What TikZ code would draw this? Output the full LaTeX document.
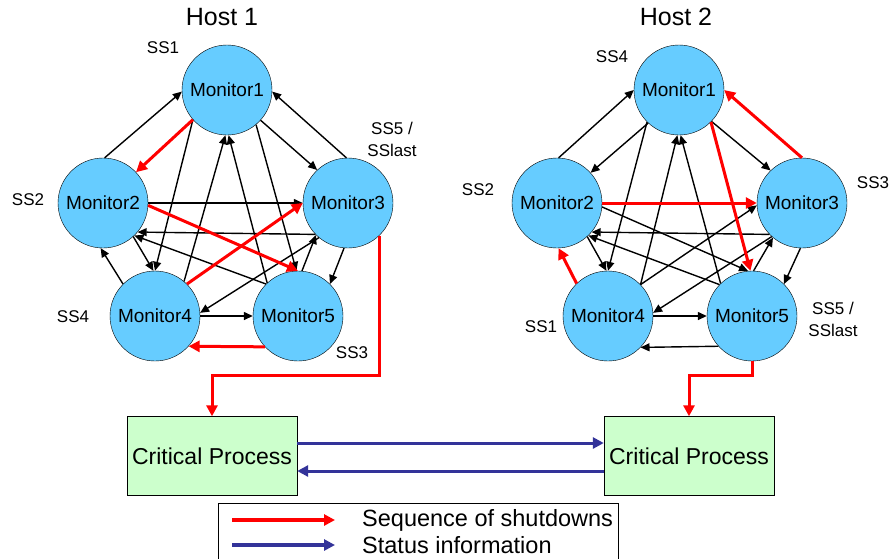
\documentclass[tikz,border=0pt]{standalone}
\usepackage{fontspec}
\setmainfont{Liberation Sans}
\usetikzlibrary{arrows.meta,positioning}
\definecolor{monblue}{RGB}{102,204,255}
\definecolor{cpgreen}{RGB}{204,255,204}
\definecolor{statblue}{RGB}{51,51,153}

\begin{document}
\begin{tikzpicture}[x=1pt, y=-1pt,
    monitor/.style = {circle, minimum size=90pt, inner sep=0pt, draw=black, fill=monblue, font=\fontsize{19}{21}\selectfont},
    critical/.style = {rectangle, minimum width=170pt, minimum height=79pt, draw=black, fill=cpgreen, font=\fontsize{23}{25}\selectfont},
    legendbox/.style = {rectangle, minimum width=400pt, minimum height=64pt, draw=black, line width=1pt},
    sslabel/.style = {align=center, font=\fontsize{17}{22}\selectfont},
    hostlabel/.style = {font=\fontsize{25}{28}\selectfont},
    legendtext/.style = {anchor=west, inner sep=0pt, font=\fontsize{23.5}{25}\selectfont},
    arrow/.style = {line width=1.4pt, -{Triangle[length=9pt,width=8pt]}},
    shutdown/.style = {line width=3pt, red, -{Triangle[length=11pt,width=11pt]}},
    status/.style = {line width=3pt, statblue, -{Triangle[length=11pt,width=11pt]}}
]
\useasboundingbox (0,0) rectangle (893,558);

% Host 1
\node (host1) [hostlabel] at (222,17) {Host 1};
\node (a1) [monitor] at (227,90) {Monitor1};
\node (a2) [monitor] at (103,203) {Monitor2};
\node (a3) [monitor] at (348,203) {Monitor3};
\node (a4) [monitor] at (155,316) {Monitor4};
\node (a5) [monitor] at (298,316) {Monitor5};
\node (ssa1) [sslabel] at (163,48) {SS1};
\node (ssa2) [sslabel] at (28,200) {SS2};
\node (ssa3) [sslabel] at (352,353) {SS3};
\node (ssa4) [sslabel] at (73,317) {SS4};
\node (ssa5) [sslabel] at (392,139) {SS5 /\\SSlast};

% Host 2
\node (host2) [hostlabel] at (676,17) {Host 2};
\node (b1) [monitor] at (679,90) {Monitor1};
\node (b2) [monitor] at (557,203) {Monitor2};
\node (b3) [monitor] at (802,203) {Monitor3};
\node (b4) [monitor] at (608,316) {Monitor4};
\node (b5) [monitor] at (752,316) {Monitor5};
\node (ssb1) [sslabel] at (541,327) {SS1};
\node (ssb2) [sslabel] at (478,190) {SS2};
\node (ssb3) [sslabel] at (873,183) {SS3};
\node (ssb4) [sslabel] at (612,57) {SS4};
\node (ssb5) [sslabel] at (833,319) {SS5 /\\SSlast};

% Critical processes
\node (c1) [critical] at (212,456) {Critical Process};
\node (c2) [critical] at (689,456) {Critical Process};

% Legend
\node (legend) [legendbox, anchor=north] at (418,503) {};
\coordinate (redA) at (232,520);
\coordinate (redB) at (335,520);
\coordinate (blueA) at (232,545);
\coordinate (blueB) at (335,545);
\node (seqtext) [legendtext] at (362,520) {Sequence of shutdowns};
\node (stattext) [legendtext] at (362,545) {Status information};

% Edges host 1
\draw [arrow] (a2.88) -- (a1.182);
\draw [arrow] (a3.92) -- (a1.-2);
\draw [arrow] (a1.-42) -- (a3.133);
\draw [arrow] (a1.221) -- (a4.90);
\draw [arrow] (a4.50) -- (a1.-92);
\draw [arrow] (a5.133) -- (a1.-88);
\draw [arrow] (a1.-50) -- (a5.92);
\draw [arrow] (a2.0) -- (a3.180);
\draw [arrow] (a3.224) -- (a2.-40);
\draw [arrow] (a5.135) -- (a2.-46);
\draw [arrow] (a2.-48) -- (a4.92);
\draw [arrow] (a4.135) -- (a2.-93);
\draw [arrow] (a3.230) -- (a4.4);
\draw [arrow] (a3.-95) -- (a5.45);
\draw [arrow] (a5.85) -- (a3.225);
\draw [arrow] (a4.0) -- (a5.180);
\draw [shutdown] (a1.221) -- (a2.43);
\draw [shutdown] (a2.-3) -- (a5.90);
\draw [shutdown] (a5.223) -- (a4.-42);
\draw [shutdown] (a4.45) -- (a3.180);
\draw [shutdown] (a3.-46) |- ([yshift=41pt]c1.north) -- (c1.north);

% Edges host 2
\draw [arrow] (b2.88) -- (b1.180);
\draw [arrow] (b1.227) -- (b2.42);
\draw [arrow] (b1.-44) -- (b3.134);
\draw [arrow] (b1.225) -- (b4.90);
\draw [arrow] (b4.44) -- (b1.-92);
\draw [arrow] (b5.134) -- (b1.-88);
\draw [arrow] (b3.224) -- (b2.-40);
\draw [arrow] (b5.136) -- (b2.-46);
\draw [arrow] (b2.-5) -- (b5.95);
\draw [arrow] (b2.-48) -- (b4.92);
\draw [arrow] (b4.44) -- (b3.183);
\draw [arrow] (b3.228) -- (b4.4);
\draw [arrow] (b3.-92) -- (b5.45);
\draw [arrow] (b5.88) -- (b3.230);
\draw [arrow] (b4.0) -- (b5.180);
\draw [arrow] (b5.222) -- (b4.-44);
\draw [shutdown] (b4.134) -- (b2.-88);
\draw [shutdown] (b2.0) -- (b3.180);
\draw [shutdown] (b3.90) -- (b1.0);
\draw [shutdown] (b1.-45) -- (b5.92);
\draw [shutdown] (b5.-90) |- ([yshift=41pt]c2.north) -- (c2.north);

% Status
\draw [status] ([yshift=13pt]c1.east) -- ([yshift=13pt]c2.west);
\draw [status] ([yshift=-15pt]c2.west) -- ([yshift=-15pt]c1.east);

% Legend arrows
\draw [shutdown, line width=4pt] (redA) -- (redB);
\draw [status, line width=4pt] (blueA) -- (blueB);

\end{tikzpicture}
\end{document}
